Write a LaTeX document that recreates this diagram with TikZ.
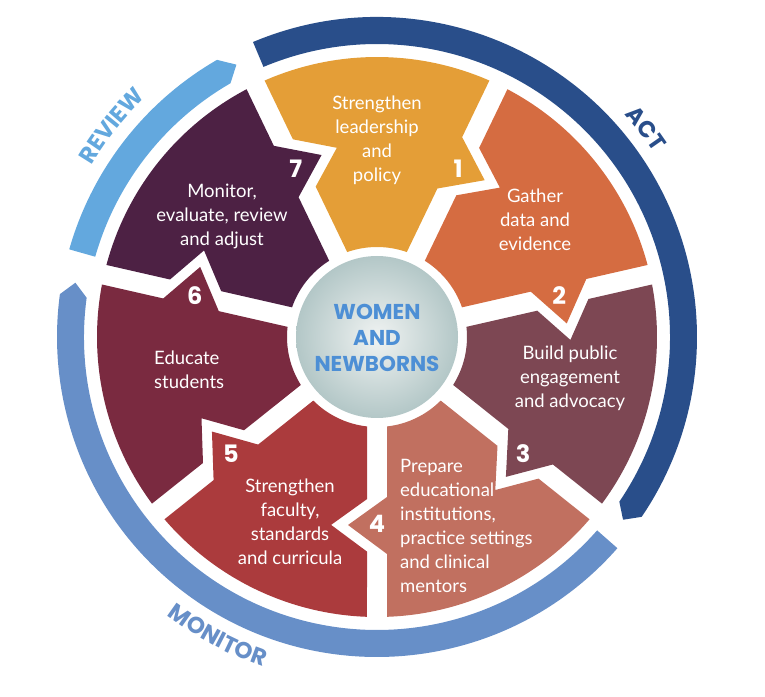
\documentclass[tikz,border=0pt]{standalone}
\usepackage{fontspec}
\setmainfont{Lato}
\newfontfamily\capsfont{Poppins}
\usetikzlibrary{calc,decorations.text}
\definecolor{segA}{HTML}{E49E37}
\definecolor{segB}{HTML}{D56C41}
\definecolor{segC}{HTML}{7D4753}
\definecolor{segD}{HTML}{C17060}
\definecolor{segE}{HTML}{AB3B3D}
\definecolor{segF}{HTML}{7A2A40}
\definecolor{segG}{HTML}{4D2144}
\definecolor{actblue}{HTML}{294E8A}
\definecolor{revblue}{HTML}{63A8DE}
\definecolor{monblue}{HTML}{678FC8}
\definecolor{womenblue}{HTML}{4D8FD5}
\definecolor{circhi}{HTML}{F0F3F2}
\definecolor{circlo}{HTML}{B3C7C7}
\newcommand\bodyfnt{\fontsize{18.5}{24}\selectfont}
\newcommand\bandfnt{\capsfont\bfseries\fontsize{23}{23}\selectfont}
\tikzset{
  body/.style={text=white,align=center,font=\bodyfnt,inner sep=0pt},
  numlabel/.style={text=white,font=\capsfont\bfseries\fontsize{24}{24}\selectfont,inner sep=0pt},
  centretext/.style={text=womenblue,align=center,font=\capsfont\bfseries\fontsize{21.5}{26}\selectfont,inner sep=0pt}
}
\begin{document}
\begin{tikzpicture}[x=1pt,y=1pt]
\useasboundingbox (0,0) rectangle (765,696);
\begin{scope}[shift={(377,359)}]
  % outer bands
  \fill[actblue] (112.8:320) arc[start angle=112.8,end angle=-34.2,radius=320]
     -- (-36.6:306.5) -- (-34.2:293) arc[start angle=-34.2,end angle=112.8,radius=293] -- cycle;
  \fill[revblue] (164.1:320) arc[start angle=164.1,end angle=120,radius=320]
     -- (117.3:306.5) -- (120:293) arc[start angle=120,end angle=164.1,radius=293] -- cycle;
  \fill[monblue] (-41.3:320) arc[start angle=-41.3,end angle=-187.7,radius=320]
     -- (-190.2:306.5) -- (-187.7:293) arc[start angle=-187.7,end angle=-41.3,radius=293] -- cycle;
  % band labels
  \path[decorate,decoration={text along path,text align=center,text color=actblue,
      text={|\bandfnt|ACT}}] (57.8:333) arc[start angle=57.8,end angle=17.8,radius=333];
  \path[decorate,decoration={text along path,text align=center,text color=revblue,
      text={|\bandfnt|REVIEW}}] (161.5:333) arc[start angle=161.5,end angle=121.5,radius=333];
  \path[decorate,decoration={text along path,text align=center,text color=monblue,
      text={|\bandfnt|MONITOR}}] (222:349) arc[start angle=222,end angle=262,radius=349];
  % segments
  \foreach \b/\col in {64.2857/segA,12.8571/segB,-38.5714/segC,-90/segD,-141.4286/segE,-192.8571/segF,-244.2857/segG}{
    \pgfmathsetmacro\a{\b+51.4286}
    \fill[\col] (\b+6.38:90) -- ([rotate=\b]160,10) -- ([rotate=\b]188,-29) -- ([rotate=\b]217,10)
      -- (\b+2.05:280) arc[start angle=\b+2.05,end angle=\a-2.05,radius=280]
      -- ([rotate=\a]214.6,-10) -- ([rotate=\a]187.9,-45.9) -- ([rotate=\a]162.1,-10)
      -- (\a-6.38:90) arc[start angle=\a-6.38,end angle=\b+6.38,radius=90] -- cycle;
  }
  % centre
  \shade[inner color=circhi,outer color=circlo] (0,0) circle[radius=81];
  \node[centretext] (centre) at (0,-1) {WOMEN\\AND\\NEWBORNS};
  % segment texts
  \node[body] (t1) at (0,197) {Strengthen\\leadership\\and\\policy};
  \node[body] (t2) at (158,117) {Gather\\data and\\evidence};
  \node[body] (t3) at (193,-41) {Build public\\engagement\\and advocacy};
  \node[body,align=left,anchor=west] (t4) at (23,-189) {Prepare\\educational\\institutions,\\practice settings\\and clinical\\mentors};
  \node[body] (t5) at (-87,-185) {Strengthen\\faculty,\\standards\\and curricula};
  \node[body,align=left,anchor=west] (t6) at (-223,-32.5) {Educate\\students};
  \node[body] (t7) at (-155,121) {Monitor,\\evaluate, review\\and adjust};
  % numbers
  \node[numlabel] (n1) at ([rotate=64.2857]187,0) {1};
  \node[numlabel] (n2) at ([rotate=12.8571]187,0) {2};
  \node[numlabel] (n3) at ([rotate=-38.5714]187,0) {3};
  \node[numlabel] (n4) at ([rotate=-90]187,0) {4};
  \node[numlabel] (n5) at ([rotate=-141.4286]187,0) {5};
  \node[numlabel] (n6) at ([rotate=-192.8571]187,0) {6};
  \node[numlabel] (n7) at ([rotate=-244.2857]187,0) {7};
\end{scope}
\end{tikzpicture}
\end{document}
